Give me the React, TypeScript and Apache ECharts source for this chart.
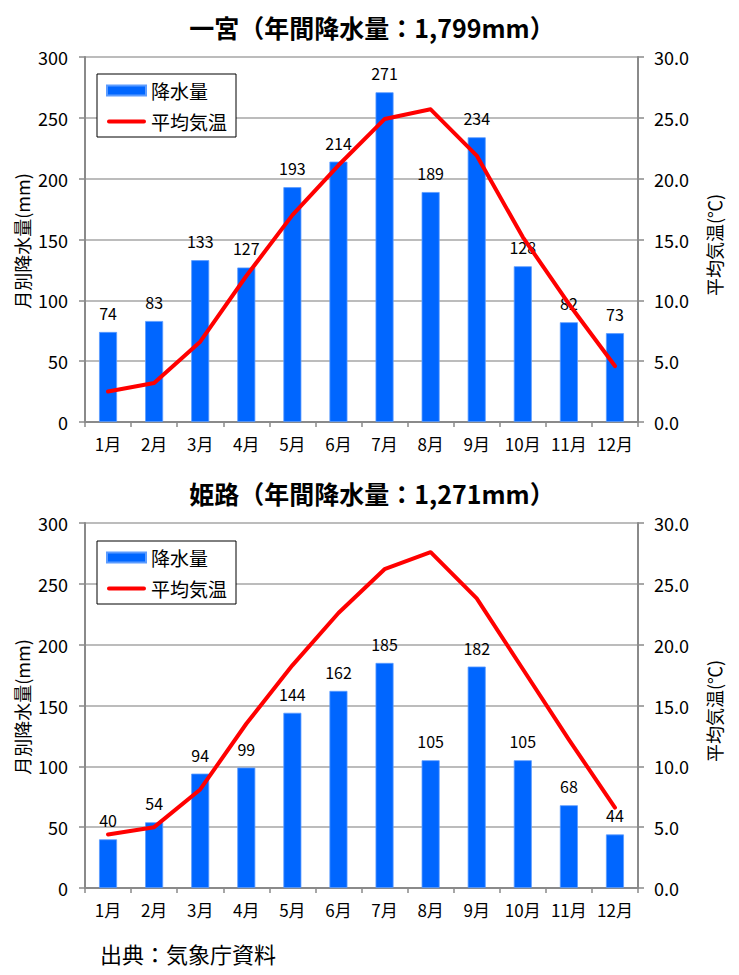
import React, { useEffect, useRef } from "react";
import * as echarts from "echarts";

const months = ["1月", "2月", "3月", "4月", "5月", "6月", "7月", "8月", "9月", "10月", "11月", "12月"];

const ichinomiyaRain = [74, 83, 133, 127, 193, 214, 271, 189, 234, 128, 82, 73];
const ichinomiyaTemp = [2.5, 3.2, 6.6, 12.0, 17.0, 21.1, 24.9, 25.7, 21.9, 15.2, 9.7, 4.6];

const himejiRain = [40, 54, 94, 99, 144, 162, 185, 105, 182, 105, 68, 44];
const himejiTemp = [4.4, 5.0, 8.1, 13.5, 18.3, 22.6, 26.2, 27.6, 23.8, 18.0, 12.2, 6.6];

const chartTitles = ["一宮（年間降水量：1,799mm）", "姫路（年間降水量：1,271mm）"];
const seriesNames = ["降水量", "平均気温"];
const leftAxisName = "月別降水量(mm)";
const rightAxisName = "平均気温(℃)";
const sourceText = "出典：気象庁資料";

const FONT = "'Noto Sans CJK JP', 'Noto Sans', sans-serif";
const AXIS_GRAY = "#8a8a8a";
const GRID_GRAY = "#a6a6a6";
const BAR_BLUE = "#0066ff";
const LINE_RED = "#ff0000";

export default function App() {
  const ref = useRef<HTMLDivElement>(null);

  useEffect(() => {
    if (!ref.current) return;
    const chart = echarts.init(ref.current, null, { renderer: "svg" });

    const rains = [ichinomiyaRain, himejiRain];
    const temps = [ichinomiyaTemp, himejiTemp];
    const gridTops = [57, 523];
    const legendTops = [74, 541];
    const titleTops = [14, 480];

    const option: any = {
      animation: false,
      backgroundColor: "#ffffff",
      textStyle: { fontFamily: FONT, color: "#000" },
      title: chartTitles.map((t, i) => ({
        text: t,
        left: 372,
        top: titleTops[i],
        textAlign: "center",
        padding: 0,
        textStyle: { fontSize: 25, fontWeight: "bold", color: "#000", fontFamily: FONT },
      })),
      legend: [0, 1].map((i) => ({
        data: [
          { name: seriesNames[0], icon: "rect" },
          { name: seriesNames[1], icon: "path://M2,0 L38,0 A2,2 0 0 1 38,4 L2,4 A2,2 0 0 1 2,0 Z" },
        ],
        left: 97,
        top: legendTops[i],
        orient: "vertical",
        padding: [7, 9, 6, 9],
        itemWidth: 39,
        itemHeight: 10,
        itemGap: 12,
        backgroundColor: "#ffffff",
        borderColor: "#000",
        borderWidth: 1,
        borderRadius: 0,
        selectedMode: false,
        textStyle: { fontSize: 19, color: "#000", fontFamily: FONT },
      })),
      grid: gridTops.map((top) => ({ left: 85, top, width: 553, height: 365, containLabel: false })),
      xAxis: [0, 1].map((i) => ({
        type: "category",
        gridIndex: i,
        data: months,
        boundaryGap: true,
        axisLine: { show: true, lineStyle: { color: AXIS_GRAY, width: 2 } },
        axisTick: { show: true, length: 5, interval: 0, lineStyle: { color: AXIS_GRAY, width: 1.5 } },
        axisLabel: { color: "#000", fontSize: 17, margin: 13, interval: 0, fontFamily: FONT },
        splitLine: { show: false },
      })),
      yAxis: [0, 1].flatMap((i) => [
        {
          type: "value",
          gridIndex: i,
          position: "left",
          min: 0,
          max: 300,
          interval: 50,
          axisLine: { show: true, lineStyle: { color: AXIS_GRAY, width: 2 } },
          axisTick: { show: true, length: 6, lineStyle: { color: AXIS_GRAY, width: 1.5 } },
          axisLabel: { color: "#000", fontSize: 18, margin: 17, fontFamily: FONT },
          splitLine: { show: true, lineStyle: { color: GRID_GRAY, width: 1.5 } },
        },
        {
          type: "value",
          gridIndex: i,
          position: "right",
          min: 0,
          max: 30,
          interval: 5,
          axisLine: { show: true, lineStyle: { color: AXIS_GRAY, width: 2 } },
          axisTick: { show: true, length: 6, lineStyle: { color: AXIS_GRAY, width: 1.5 } },
          axisLabel: {
            color: "#000",
            fontSize: 18,
            margin: 16,
            fontFamily: FONT,
            formatter: (v: number) => v.toFixed(1),
          },
          splitLine: { show: false },
        },
      ]),
      series: [0, 1].flatMap((i) => [
        {
          name: seriesNames[0],
          type: "bar",
          xAxisIndex: i,
          yAxisIndex: i * 2,
          data: rains[i],
          barWidth: 18,
          itemStyle: { color: BAR_BLUE, borderColor: "#5c9cff", borderWidth: 0.8 },
          label: {
            show: true,
            position: "top",
            distance: 11,
            color: "#000",
            fontSize: 16,
            fontFamily: FONT,
          },
          z: 2,
        },
        {
          name: seriesNames[1],
          type: "line",
          xAxisIndex: i,
          yAxisIndex: i * 2 + 1,
          data: temps[i],
          symbol: "none",
          showSymbol: false,
          lineStyle: { color: LINE_RED, width: 4, cap: "round", join: "round" },
          itemStyle: { color: LINE_RED },
          z: 3,
        },
      ]),
      graphic: [
        ...[0, 1].map((i) => ({
          type: "text",
          x: 22,
          y: 241 + i * 466,
          rotation: Math.PI / 2,
          style: {
            text: leftAxisName,
            fill: "#000",
            font: `18px ${FONT}`,
            align: "center",
            verticalAlign: "middle",
          },
        })),
        ...[0, 1].map((i) => ({
          type: "text",
          x: 714,
          y: 245 + i * 466,
          rotation: Math.PI / 2,
          style: {
            text: rightAxisName,
            fill: "#000",
            font: `18px ${FONT}`,
            align: "center",
            verticalAlign: "middle",
          },
        })),
        {
          type: "text",
          x: 100,
          y: 953,
          style: {
            text: sourceText,
            fill: "#000",
            font: `22px ${FONT}`,
            align: "left",
            verticalAlign: "middle",
          },
        },
      ],
    };

    chart.setOption(option);
    return () => chart.dispose();
  }, []);

  return (
    <div
      ref={ref}
      style={{ position: "absolute", left: 0, top: 0, width: 739, height: 975 }}
    />
  );
}
